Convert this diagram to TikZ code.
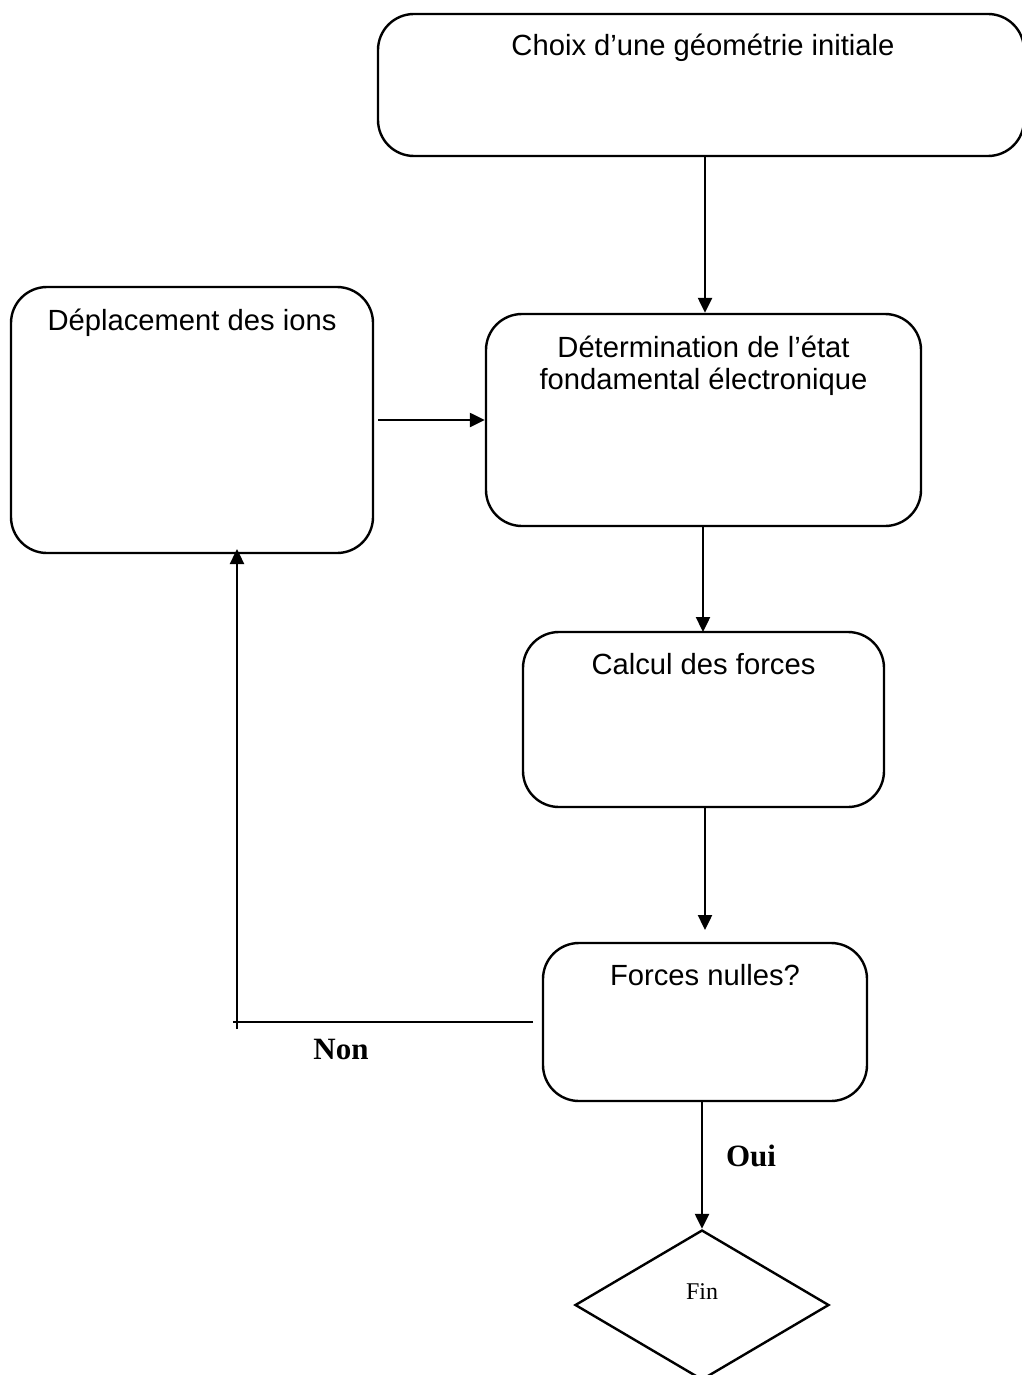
\documentclass[tikz,border=0pt]{standalone}
\usepackage{fontspec}
\setmainfont{Liberation Sans}
\newfontfamily\labelfont{Liberation Serif}
\usetikzlibrary{arrows.meta,shapes.geometric}
\begin{document}
\begin{tikzpicture}[x=1pt,y=-1pt,
  line width=2.4pt,
  stepbox/.style={draw, rounded corners=36pt, inner sep=0pt},
  boxtext/.style={font=\fontsize{29.2}{32}\selectfont, align=center, anchor=north, inner sep=0pt},
  flow/.style={-{Triangle[length=15pt,width=14pt]}},
  answer/.style={font=\labelfont\bfseries\fontsize{31}{34}\selectfont, inner sep=0pt}]
  \useasboundingbox (0,0) rectangle (1021,1375);

  % process boxes
  \node[stepbox, minimum width=646pt, minimum height=142pt] (init) at (701,85) {};
  \node[boxtext] (initT) at (703,33) {Choix d’une géométrie initiale};

  \node[stepbox, minimum width=362pt, minimum height=266pt] (move) at (192,420) {};
  \node[boxtext] (moveT) at (192,308) {Déplacement des ions};

  \node[stepbox, minimum width=435pt, minimum height=212pt] (scf) at (703.5,420) {};
  \node[boxtext] (scfT) at (703.5,335) {Détermination de l’état\\fondamental électronique};

  \node[stepbox, minimum width=361pt, minimum height=175pt] (forces) at (703.5,719.5) {};
  \node[boxtext] (forcesT) at (703.5,652) {Calcul des forces};

  \node[stepbox, minimum width=324pt, minimum height=158pt] (test) at (705,1022) {};
  \node[boxtext] (testT) at (705,963) {Forces nulles?};

  % end of the loop
  \node[draw, diamond, inner sep=0pt, minimum width=254pt, minimum height=150pt] (fin) at (702,1305) {};
  \node[font=\labelfont\fontsize{24}{26}\selectfont, inner sep=0pt] (finT) at (702,1292) {Fin};

  % connectors
  \coordinate (initOut) at (705,156);
  \draw[flow] (initOut) -- (initOut |- scf.north);
  \coordinate (moveOut) at (378,420);
  \draw[flow] (moveOut) -- (scf.west);
  \draw[flow] (703,526) -- (703,632);
  \coordinate (forcesOut) at (705,807);
  \coordinate (testIn) at (705,930);
  \draw[flow] (forcesOut) -- (testIn);
  \draw[flow] (fin.north |- test.south) -- (fin.north);

  % "Non" branch back to the ion displacement
  \coordinate (noStart) at (533,1022);
  \coordinate (noCorner) at (233,1022);
  \coordinate (noFoot) at (237,1029);
  \draw (noStart) -- (noCorner);
  \draw[flow] (noFoot) -- (237,549);

  \node[answer] (non) at (341,1049) {Non};
  \node[answer] (oui) at (751,1156) {Oui};
\end{tikzpicture}
\end{document}
